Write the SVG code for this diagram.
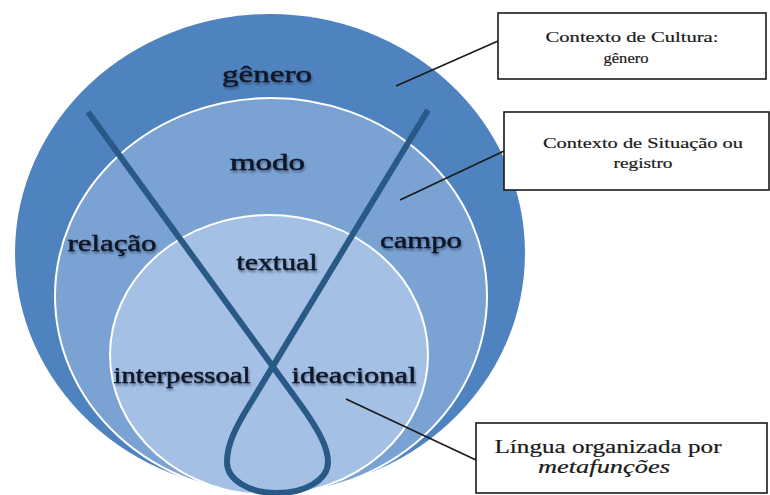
<svg xmlns="http://www.w3.org/2000/svg" width="770" height="495" viewBox="0 0 770 495">
<defs>
<style>
.lbl{font-size:24px;fill:#0e1628;stroke:#0e1628;stroke-width:0.5;text-anchor:middle;filter:url(#sh)}
.box{fill:#ffffff;stroke:#1a1a1a;stroke-width:1.6}
.bt{font-size:15px;fill:#1a1a1a;stroke:#1a1a1a;stroke-width:0.2;text-anchor:middle}
.bt2{font-size:19px;fill:#1a1a1a;stroke:#1a1a1a;stroke-width:0.2;text-anchor:middle}
.conn{stroke:#1a1a1a;stroke-width:1.6;fill:none}
</style>
<filter id="sh" x="-10%" y="-30%" width="130%" height="170%">
<feDropShadow dx="1" dy="2" stdDeviation="1.3" flood-color="#1b2a44" flood-opacity="0.55"/>
</filter>
</defs>
<rect width="770" height="495" fill="#ffffff"/>
<g font-family="Liberation Serif, DejaVu Serif, serif">
<g id="cultura">
<ellipse cx="270" cy="253" rx="255" ry="239" fill="#4f83bf"/>
<text class="lbl" x="267" y="82" textLength="90" lengthAdjust="spacingAndGlyphs">gênero</text>
</g>
<g id="situacao">
<ellipse cx="271" cy="296" rx="216" ry="198" fill="#7aa3d4" stroke="#ffffff" stroke-width="2"/>
<text class="lbl" x="267.5" y="170" textLength="75" lengthAdjust="spacingAndGlyphs">modo</text>
<text class="lbl" x="112" y="251" textLength="89" lengthAdjust="spacingAndGlyphs">relação</text>
<text class="lbl" x="421" y="248" textLength="82" lengthAdjust="spacingAndGlyphs">campo</text>
</g>
<g id="lingua">
<ellipse cx="269" cy="355" rx="159" ry="140" fill="#a5c0e5" stroke="#ffffff" stroke-width="2"/>
</g>
<g id="laco">
<path d="M88,112 L300,404 C318,429 328,447 328,462 C328,480 305,493 277,493 C249,493 227,480 227,462 C227,445 235,428 250,404 L428,110" fill="none" stroke="#285987" stroke-width="6" stroke-linejoin="round"/>
</g>
<g id="metafuncoes">
<text class="lbl" x="277" y="270" textLength="81" lengthAdjust="spacingAndGlyphs">textual</text>
<text class="lbl" x="182" y="383" textLength="137" lengthAdjust="spacingAndGlyphs">interpessoal</text>
<text class="lbl" x="354" y="383" textLength="125" lengthAdjust="spacingAndGlyphs">ideacional</text>
</g>
<g id="connectors">
<line class="conn" x1="396" y1="86" x2="498" y2="41"/>
<line class="conn" x1="400" y1="200" x2="504" y2="151"/>
<line class="conn" x1="346" y1="399" x2="476" y2="460"/>
</g>
<g id="box-cultura">
<rect class="box" x="498" y="13" width="268" height="66"/>
<text class="bt" x="632" y="42" textLength="173" lengthAdjust="spacingAndGlyphs">Contexto de Cultura:</text>
<text class="bt" x="626" y="63" textLength="45" lengthAdjust="spacingAndGlyphs">gênero</text>
</g>
<g id="box-situacao">
<rect class="box" x="504" y="112" width="265" height="78"/>
<text class="bt" x="643" y="148" textLength="200" lengthAdjust="spacingAndGlyphs">Contexto de Situação ou</text>
<text class="bt" x="643" y="168" textLength="59" lengthAdjust="spacingAndGlyphs">registro</text>
</g>
<g id="box-lingua">
<rect class="box" x="476" y="423" width="291" height="70"/>
<text class="bt2" x="608" y="453" textLength="227" lengthAdjust="spacingAndGlyphs">Língua organizada por</text>
<text class="bt2" x="604" y="473" font-style="italic" textLength="132" lengthAdjust="spacingAndGlyphs">metafunções</text>
</g>
</g>
</svg>
